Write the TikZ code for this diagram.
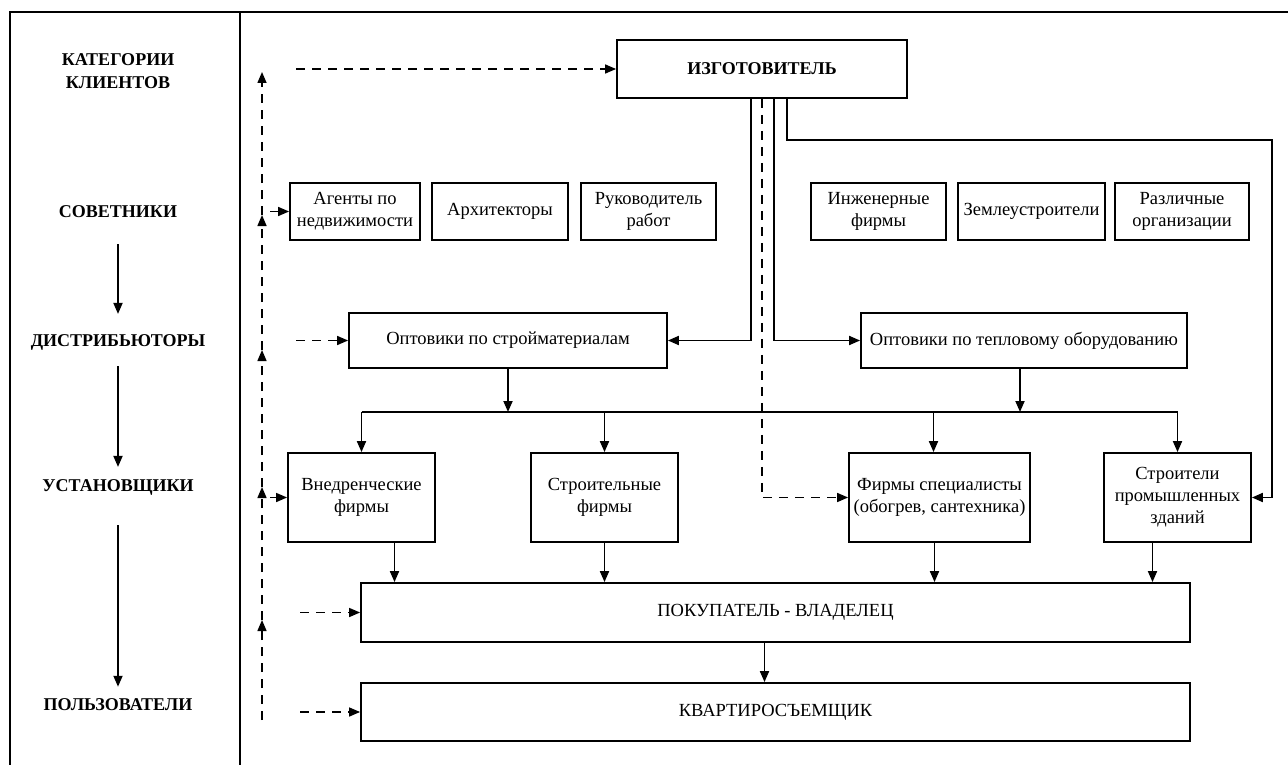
\documentclass[tikz,border=0pt]{standalone}
\usepackage{fontspec}
\setmainfont{Liberation Serif}
\usetikzlibrary{arrows.meta}
\begin{document}
\begin{tikzpicture}[x=1pt,y=-1pt,
  every node/.style={font=\fontsize{18.5}{22}\selectfont, align=center, inner sep=2pt},
  hdr/.style={font=\fontsize{18}{23}\selectfont\bfseries},
  box/.style={draw, line width=1.8pt, inner sep=0pt},
  ln/.style={line width=1.8pt},
  arr/.style={line width=1.8pt, -{Triangle[length=11pt,width=9pt]}},
  dsh/.style={line width=1.5pt, dash pattern=on 9pt off 7pt, -{Triangle[length=11pt,width=9pt]}}]
\useasboundingbox (0,0) rectangle (1288,765);
% frame
\draw[ln] (10,765) -- (10,12) -- (1288,12);
\draw[ln] (240,12) -- (240,765);
% left column
\node[hdr] (cat) at (118,71) {КАТЕГОРИИ\\КЛИЕНТОВ};
\node[hdr] (sov) at (118,212) {СОВЕТНИКИ};
\node[hdr] (dis) at (118,342) {ДИСТРИБЬЮТОРЫ};
\node[hdr] (ust) at (118,487) {УСТАНОВЩИКИ};
\node[hdr] (pol) at (118,705) {ПОЛЬЗОВАТЕЛИ};
\draw[arr, shorten <=24pt, shorten >=18pt] (sov) -- (dis);
\draw[arr, shorten <=14pt, shorten >=10pt] (dis) -- (ust);
\draw[arr, shorten <=28pt, shorten >=10pt] (ust) -- (pol);
% boxes
\node[box, minimum width=290pt, minimum height=58pt, font=\fontsize{18}{22}\selectfont\bfseries] (izg) at (762,69) {ИЗГОТОВИТЕЛЬ};
\node[box, minimum width=130pt, minimum height=57pt] (agent) at (355,211.5) {Агенты по\\недвижимости};
\node[box, minimum width=136pt, minimum height=57pt] (arch) at (500,211.5) {Архитекторы};
\node[box, minimum width=135pt, minimum height=57pt] (ruk) at (648.5,211.5) {Руководитель\\работ};
\node[box, minimum width=135pt, minimum height=57pt] (ing) at (878.5,211.5) {Инженерные\\фирмы};
\node[box, minimum width=147pt, minimum height=57pt] (zem) at (1031.5,211.5) {Землеустроители};
\node[box, minimum width=134pt, minimum height=57pt] (razl) at (1182,211.5) {Различные\\организации};
\node[box, minimum width=318pt, minimum height=55pt] (optS) at (508,340.5) {Оптовики по стройматериалам};
\node[box, minimum width=326pt, minimum height=55pt] (optT) at (1024,340.5) {Оптовики по тепловому оборудованию};
\node[box, minimum width=147pt, minimum height=89pt] (vned) at (361.5,497.5) {Внедренческие\\фирмы};
\node[box, minimum width=147pt, minimum height=89pt] (stroi) at (604.5,497.5) {Строительные\\фирмы};
\node[box, minimum width=181pt, minimum height=89pt] (spec) at (939.5,497.5) {Фирмы специалисты\\(обогрев, сантехника)};
\node[box, minimum width=147pt, minimum height=89pt] (prom) at (1177.5,497.5) {Строители\\промышленных\\зданий};
\node[box, minimum width=829pt, minimum height=59pt] (pok) at (775.5,612.5) {ПОКУПАТЕЛЬ - ВЛАДЕЛЕЦ};
\node[box, minimum width=829pt, minimum height=58pt] (kvar) at (775.5,712) {КВАРТИРОСЪЕМЩИК};
% manufacturer connectors
\coordinate (rc) at (1272,140);
\draw[arr] ([xshift=-11pt]izg.south) |- (optS.east);
\draw[arr] ([xshift=12pt]izg.south) |- (optT.west);
\draw[arr] ([xshift=25pt]izg.south) |- (rc) |- (prom.east);
\draw[dsh] (izg.south) |- (spec.west);
% bus
\coordinate (bl) at (362,412);
\draw[ln] (vned.north |- bl) -- (prom.north |- bl);
\draw[arr] (optS.south) -- (optS.south |- bl);
\draw[arr] ([xshift=-4pt]optT.south) -- ([xshift=-4pt]optT.south |- bl);
\draw[arr] (vned.north |- bl) -- (vned.north);
\draw[arr] (stroi.north |- bl) -- (stroi.north);
\draw[arr] ([xshift=-6pt]spec.north |- bl) -- ([xshift=-6pt]spec.north);
\draw[arr] (prom.north |- bl) -- (prom.north);
% installers to buyer
\draw[arr] ([xshift=33pt]vned.south) -- ([xshift=33pt]vned.south |- pok.north);
\draw[arr] (stroi.south) -- (stroi.south |- pok.north);
\draw[arr] ([xshift=-5pt]spec.south) -- ([xshift=-5pt]spec.south |- pok.north);
\draw[arr] ([xshift=-25pt]prom.south) -- ([xshift=-25pt]prom.south |- pok.north);
\draw[arr] ([xshift=-11pt]pok.south) -- ([xshift=-11pt]pok.south |- kvar.north);
% feedback dashed line
\coordinate (d0) at (262,720);
\coordinate (d5) at (262,620);
\coordinate (d4) at (262,487);
\coordinate (d3) at (262,350);
\coordinate (d2) at (262,215);
\coordinate (d1) at (262,72);
\draw[dsh] (d0) -- (d5);
\draw[dsh] (d5) -- (d4);
\draw[dsh] (d4) -- (d3);
\draw[dsh] (d3) -- (d2);
\draw[dsh] (d2) -- (d1);
\coordinate (h1) at (296,69);
\coordinate (h2) at (270,211.5);
\coordinate (h3) at (296,340.5);
\coordinate (h4) at (270,497.5);
\coordinate (h5) at (300,612.5);
\coordinate (h6) at (300,712);
\draw[dsh] (h1) -- (izg.west);
\draw[dsh] (h2) -- (agent.west);
\draw[dsh] (h3) -- (optS.west);
\draw[dsh] (h4) -- (vned.west);
\draw[dsh] (h5) -- (pok.west);
\draw[dsh] (h6) -- (kvar.west);
\end{tikzpicture}
\end{document}
